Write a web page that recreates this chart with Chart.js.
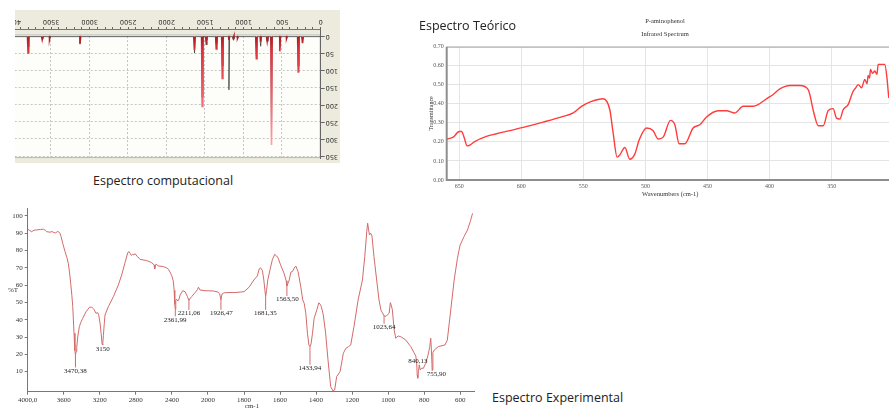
<!DOCTYPE html>
<html><head><meta charset="utf-8">
<script src="https://cdn.jsdelivr.net/npm/chart.js@4.4.1/dist/chart.umd.min.js"></script>
<style>
html,body{margin:0;padding:0;background:#fff;width:889px;height:408px;overflow:hidden;position:relative;}
#p1{position:absolute;left:15px;top:10px;width:325px;height:153px;overflow:hidden;background:#edebdd;}
#c1{position:absolute;left:-20px;top:0;transform:rotate(180deg);}
#c2{position:absolute;left:410px;top:0;}
#c3{position:absolute;left:0;top:200px;}
.cap{position:absolute;font-family:'Open Sans',sans-serif;font-size:12.5px;color:#222;white-space:nowrap;line-height:1;}
.ser{position:absolute;font-family:'Liberation Serif',serif;color:#333;white-space:nowrap;line-height:1;}
</style></head><body>
<div id="p1"><canvas id="c1" width="345" height="153"></canvas></div>
<canvas id="c2" width="490" height="200"></canvas>
<canvas id="c3" width="480" height="208"></canvas>
<div class="cap" style="left:93px;top:175px;">Espectro computacional</div>
<div class="cap" style="left:419px;top:20px;">Espectro Teórico</div>
<div class="cap" style="left:492px;top:392px;">Espectro Experimental</div>
<div class="ser" style="left:665px;top:18px;font-size:6.5px;transform:translateX(-50%);">P-aminophenol</div>
<div class="ser" style="left:665px;top:31px;font-size:6.5px;transform:translateX(-50%);">Infrared Spectrum</div>
<div class="ser" style="left:8px;top:287px;font-size:7px;">%T</div>
<div class="ser" style="left:252px;top:403px;font-size:7px;transform:translateX(-50%);">cm-1</div>
<script>
// ---------- Espectro computacional (stick spectrum) ----------
const compWavenumbers = [3800, 3617, 3521, 3126, 1639, 1539, 1487, 1356, 1278, 1192, 1135, 1080, 835, 780, 695, 639, 531, 443, 292, 236];
const compRedIntensity = [50, 8, 7, 20, 38, 206, 10, 38, 124, 10, 5, 4, 67, 15, 12, 316, 43, 5, 105, 19];
const compGrayIntensity = [30, 4, 4, 22, 48, 177, 24, 20, 86, 155, 8, 5, 57, 28, 14, 273, 33, 4, 86, 10];
const compXTicks = [0, 500, 1000, 1500, 2000, 2500, 3000, 3500, 4000];
const compYTicks = [0, 50, 100, 150, 200, 250, 300, 350];

// ---------- Espectro Teórico ----------
const theoWavenumbers = [660.1,654.8,650,648.1,646.3,643.6,641.5,637.5,628.1,620.0,609.3,598.5,582.4,566.3,558.2,551.5,543.4,534.0,528.7,526.0,522.8,520.6,516.6,512.6,508.5,505.0,499.1,493.8,489.7,485.7,479.8,476.3,472.8,468.3,461.6,456.2,450.8,441.4,434.7,428.0,421.3,413.2,409.2,402.5,397.1,391.7,383.7,375.6,368.9,364.3,360.8,356.8,352.8,348.8,346.1,343.4,340.7,336.7,332.7,330.5,328.6,325.9,323.3,321.5,320.6,319.5,318.7,317.0,315.2,313.5,312.5,307.2,305.3,304.0];
const theoTransmittance = [0.215,0.225,0.255,0.255,0.229,0.179,0.183,0.202,0.229,0.243,0.259,0.276,0.304,0.334,0.352,0.387,0.413,0.427,0.369,0.246,0.120,0.132,0.171,0.109,0.137,0.211,0.273,0.259,0.215,0.225,0.313,0.290,0.190,0.190,0.273,0.290,0.331,0.364,0.364,0.352,0.387,0.387,0.396,0.426,0.449,0.478,0.496,0.496,0.475,0.352,0.285,0.285,0.364,0.375,0.325,0.320,0.369,0.396,0.466,0.485,0.501,0.484,0.528,0.505,0.549,0.535,0.580,0.560,0.572,0.555,0.607,0.607,0.528,0.431];
const theoXTicks = [650, 600, 550, 500, 450, 400, 350];
const theoYTicks = [0, 0.1, 0.2, 0.3, 0.4, 0.5, 0.6, 0.7];

// ---------- Espectro Experimental ----------
const expWavenumbers = [4000,3975,3956,3930,3900,3860,3826,3800,3789,3752,3730,3715,3690,3670,3655,3641,3630,3610,3586,3565,3549,3535,3523,3510,3500,3486,3476,3470,3464,3456,3445,3427,3410,3390,3352,3315,3290,3265,3242,3223,3212,3197,3185,3175,3168,3160,3150,3142,3105,3049,2994,2957,2920,2890,2875,2864,2850,2835,2820,2809,2783,2753,2679,2624,2598,2590,2582,2575,2550,2494,2460,2439,2415,2402,2385,2375,2368,2362,2357,2346,2335,2320,2309,2280,2254,2228,2211,2195,2180,2143,2115,2106,2088,2032,1967,1945,1935,1928,1922,1912,1902,1856,1800,1772,1745,1726,1715,1708,1698,1690,1684,1680,1675,1668,1656,1643,1630,1620,1610,1597,1578,1566,1562,1556,1549,1540,1530,1518,1512,1500,1485,1474,1466,1457,1448,1440,1434,1428,1420,1411,1396,1385,1378,1371,1360,1347,1334,1319,1306,1297,1286,1267,1249,1235,1220,1208,1190,1167,1143,1130,1119,1114,1110,1104,1097,1090,1079,1064,1051,1040,1032,1023,1012,1005,995,988,982,977,967,958,945,930,903,875,857,847,842,839,836,832,828,822,815,805,792,779,770,764,760,756,752,745,722,685,672,653,634,616,601,579,560,545,532];
const expTransmittance = [92.3,91.5,90.9,91.8,91.9,92.2,92.3,91.6,90.9,90.6,91,90.5,90.2,91.0,90.8,89.8,88.1,84,79.4,76,72.5,67,61.1,54,47.6,32.2,22,19.5,21.5,24,30,36,38.5,40.8,44.7,47.2,47.3,46,43.7,44.1,42.8,38,32,26,25.4,31,38,42.8,47.6,53.4,60.1,65.9,73,78.8,79.4,78.4,77.2,77.8,77.5,78.2,76.5,74.9,74.2,73,71.7,69.5,71.8,72.1,71.1,70.7,70.0,69.2,67,65.5,62.5,57,49,46,51.4,51.8,50.8,52,54.3,56.8,56.2,53.4,51.1,52.5,53.4,55.7,57.5,58.8,57.2,56.8,56.6,56,55,51.5,54.9,55.5,55.7,55.7,56.2,58.8,63,65.3,69.5,70,68.5,63,57,53.4,57,63,68.8,74.6,77.8,77,75.5,71.7,66.9,62.5,59.5,61,63,67.5,68,70.5,71,67.8,59.1,51.4,49.5,43.7,32.2,25.4,24.5,26,32.2,40.8,45.7,49.8,49,47.6,42.8,32.2,16.8,1.3,-1.2,-0.6,7.1,10,20.6,23.5,24.5,25.4,36,51.4,63,76.5,90.9,95.8,93,89,90,88.4,76.5,63,51.4,45.5,44,42.2,42,42.8,43.7,49.9,48,45.7,34.1,29.3,30.6,30.2,28.3,24.5,21,19.1,15,8,6.2,10,13.9,11,12,11.9,14.8,19.6,24,29.3,22,11,21,22.4,24.5,25.4,28.3,45.7,63,75.5,83.2,88.1,91.9,96.7,101.5];
const expXTicks = [4000, 3600, 3200, 2800, 2400, 2000, 1800, 1600, 1400, 1200, 1000, 800, 600];
const expYTicks = [10, 20, 30, 40, 50, 60, 70, 80, 90, 100];
const expPeakWavenumbers = [3470, 3168, 2362, 2211, 1928, 1680, 1562, 1434, 1023, 836, 756];
const expPeakTextWavenumbers = [3470, 3168, 2365, 2211, 1926, 1681, 1560, 1434, 1023, 836, 733];
const expPeakLabels = ['3470,38', '3150', '2361,99', '2211,06', '1926,47', '1681,35', '1563,50', '1433,94', '1023,64', '840,13', '755,90'];
const expPeakFrom = [19.5, 25.4, 46, 51.1, 51.5, 53.4, 59.5, 24.5, 42.2, 17.9, 11];
const expPeakTo = [12.4, 25, 42, 45.7, 45.7, 45.7, 53.7, 14, 37.7, 17.9, 10.4];

// ===== Panel 1 =====
// each stick drawn as its own little peak; null points break the line between sticks
function spikes(wn, inten, w, withBaseline) {
  const idx = wn.map((v, i) => i).sort((a, b) => wn[b] - wn[a]);
  const pts = withBaseline ? [{x: 4000, y: 0}] : [];
  for (const i of idx) {
    pts.push({x: wn[i] + w, y: 0}, {x: wn[i], y: inten[i]}, {x: wn[i] - w, y: 0});
    if (!withBaseline) pts.push({x: wn[i] - w - 1, y: null});
  }
  if (withBaseline) pts.push({x: 0, y: 0});
  return pts;
}
const p1bg = {
  id: 'p1bg',
  beforeDraw(chart) {
    const {ctx, chartArea: a, scales: {x, y}} = chart;
    const yb = y.getPixelForValue(-6.3);
    ctx.save();
    ctx.fillStyle = '#fdfdfa';
    ctx.fillRect(a.left, a.top, a.right - a.left, yb - a.top);
    ctx.strokeStyle = '#b4b4b4'; ctx.lineWidth = 1;
    ctx.strokeRect(a.left + 0.5, a.top + 0.5, a.right - a.left - 1, yb - a.top - 1);
    ctx.setLineDash([2, 2]); ctx.strokeStyle = '#c4c4c4';
    for (const v of compXTicks) {
      if (v <= 0 || v >= 4000) continue;
      const px = Math.round(x.getPixelForValue(v)) + 0.5;
      ctx.beginPath(); ctx.moveTo(px, a.top); ctx.lineTo(px, yb); ctx.stroke();
    }
    for (const v of compYTicks) {
      if (v <= 0) continue;
      const py = Math.round(y.getPixelForValue(v)) + 0.5;
      ctx.beginPath(); ctx.moveTo(a.left, py); ctx.lineTo(a.right, py); ctx.stroke();
    }
    ctx.restore();
  }
};
function redGradient(ctx) {
  const chart = ctx.chart; const a = chart.chartArea;
  if (!a) return '#e3343c';
  const y = chart.scales.y;
  const g = chart.ctx.createLinearGradient(0, y.getPixelForValue(0), 0, y.getPixelForValue(320));
  g.addColorStop(0, '#a81c22'); g.addColorStop(0.12, '#e0303a'); g.addColorStop(0.6, '#f06a74'); g.addColorStop(1, '#ffa3ab');
  return g;
}
new Chart(document.getElementById('c1'), {
  type: 'scatter',
  data: {datasets: [
    {data: spikes(compWavenumbers, compRedIntensity, 7, false), showLine: true, spanGaps: false, borderColor: redGradient, borderWidth: 1.7, pointRadius: 0, tension: 0},
    {data: spikes(compWavenumbers, compGrayIntensity, 9, true), showLine: true, borderColor: 'rgba(70,70,70,0.85)', borderWidth: 1, pointRadius: 0, tension: 0}
  ]},
  options: {
    responsive: false, animation: false, events: [],
    layout: {padding: {top: 3, left: 0, right: 17.7, bottom: 0}},
    plugins: {legend: {display: false}, tooltip: {enabled: false}},
    scales: {
      x: {type: 'linear', min: 0, max: 4000,
        afterBuildTicks: s => { const t = []; for (let v = 0; v <= 4000; v += 100) t.push({value: v}); s.ticks = t; },
        afterFit: s => { s.height = 20; },
        ticks: {autoSkip: false, maxRotation: 0, padding: 1, color: '#333', font: {family: 'DejaVu Sans', size: 6.5},
          callback: v => compXTicks.includes(v) ? String(v) : ''},
        grid: {drawOnChartArea: false, tickLength: 3, tickColor: '#666'},
        border: {color: '#777'}},
      y: {type: 'linear', min: -19.3, max: 354.3,
        afterBuildTicks: s => { s.ticks = compYTicks.map(v => ({value: v})); },
        afterFit: s => { s.width = 19.3; },
        ticks: {padding: 1, color: '#333', font: {family: 'DejaVu Sans', size: 6.5}},
        grid: {drawOnChartArea: false, tickLength: 4, tickColor: '#666'},
        border: {color: '#666'}}
    }
  },
  plugins: [p1bg]
});

// ===== Panel 2 =====
const p2frame = {
  id: 'p2frame',
  beforeDatasetsDraw(chart) {
    const {ctx, chartArea: a} = chart;
    ctx.save();
    ctx.strokeStyle = '#a8a8a8'; ctx.lineWidth = 1;
    ctx.beginPath(); ctx.moveTo(a.left, a.top + 0.5); ctx.lineTo(a.right, a.top + 0.5); ctx.stroke();
    ctx.strokeStyle = '#8e8e8e'; ctx.lineWidth = 2;
    ctx.beginPath(); ctx.moveTo(a.left, a.top); ctx.lineTo(a.left, a.bottom); ctx.lineTo(a.right, a.bottom); ctx.stroke();
    ctx.restore();
  }
};
new Chart(document.getElementById('c2'), {
  type: 'line',
  data: {datasets: [{data: theoWavenumbers.map((w, i) => ({x: w, y: theoTransmittance[i]})),
    borderColor: '#ff3b3b', borderWidth: 1.4, pointRadius: 0, cubicInterpolationMode: 'monotone'}]},
  options: {
    responsive: false, animation: false, events: [],
    layout: {padding: {top: 46.7, left: 18, right: 6.3, bottom: 0}},
    plugins: {legend: {display: false}, tooltip: {enabled: false}},
    scales: {
      x: {type: 'linear', reverse: true, min: 300, max: 660.1,
        afterBuildTicks: s => { s.ticks = theoXTicks.map(v => ({value: v})); },
        afterFit: s => { s.height = 20; },
        ticks: {maxRotation: 0, padding: 3, color: '#555', font: {family: 'Liberation Serif', size: 6}},
        grid: {color: '#e4e4e4', drawTicks: false},
        border: {display: false},
        title: {display: true, text: 'Wavenumbers (cm-1)', color: '#333', font: {family: 'Liberation Serif', size: 6.5}, padding: {top: 0, bottom: 2}}},
      y: {type: 'linear', min: 0, max: 0.7,
        afterBuildTicks: s => { s.ticks = theoYTicks.map(v => ({value: v})); },
        afterFit: s => { s.width = 18.7; },
        ticks: {padding: 3, color: '#555', font: {family: 'Liberation Serif', size: 6}, callback: v => Number(v).toFixed(2)},
        grid: {color: '#e4e4e4', drawTicks: false},
        border: {display: false},
        title: {display: true, text: 'Transmittance', color: '#333', font: {family: 'Liberation Serif', size: 6}, padding: 0}}
    }
  },
  plugins: [p2frame]
});

// ===== Panel 3 =====
// split axis: 400 cm-1 per division above 2000, 200 cm-1 per division below
function toPos(w) { return w >= 2000 ? (4000 - w) / 400 : 5 + (2000 - w) / 200; }
function fromPos(p) { return p <= 5 ? 4000 - p * 400 : 2000 - (p - 5) * 200; }
const expColor = '#d46a6a';
const p3labels = {
  id: 'p3labels',
  afterDatasetsDraw(chart) {
    const {ctx, scales: {x, y}} = chart;
    ctx.save();
    ctx.strokeStyle = expColor; ctx.lineWidth = 1;
    ctx.fillStyle = '#222'; ctx.font = '7px "Liberation Serif"';
    ctx.textAlign = 'center'; ctx.textBaseline = 'top';
    expPeakWavenumbers.forEach((w, i) => {
      const px = x.getPixelForValue(toPos(w));
      const y1 = y.getPixelForValue(expPeakFrom[i]);
      const y2 = y.getPixelForValue(expPeakTo[i]);
      if (y2 - y1 > 1) { ctx.beginPath(); ctx.moveTo(px, y1); ctx.lineTo(px, y2); ctx.stroke(); }
      ctx.fillText(expPeakLabels[i], x.getPixelForValue(toPos(expPeakTextWavenumbers[i])), y2);
    });
    ctx.restore();
  }
};
new Chart(document.getElementById('c3'), {
  type: 'line',
  data: {datasets: [{data: expWavenumbers.map((w, i) => ({x: toPos(w), y: expTransmittance[i]})),
    borderColor: expColor, borderWidth: 1, pointRadius: 0, tension: 0}]},
  options: {
    responsive: false, animation: false, events: [],
    layout: {padding: {top: 8, left: 0, right: 6, bottom: 0}},
    plugins: {legend: {display: false}, tooltip: {enabled: false}},
    scales: {
      x: {type: 'linear', min: 0, max: 12.38,
        afterBuildTicks: s => { s.ticks = expXTicks.map(w => ({value: toPos(w)})); },
        afterFit: s => { s.height = 16.3; },
        ticks: {autoSkip: false, maxRotation: 0, padding: 1, color: '#333', font: {family: 'Liberation Serif', size: 7},
          callback: v => { const w = Math.round(fromPos(v)); return w === 4000 ? '4000,0' : String(w); }},
        grid: {drawOnChartArea: false, tickLength: 3, tickColor: '#777'},
        border: {color: '#777'}},
      y: {type: 'linear', min: -1.6, max: 104.6,
        afterBuildTicks: s => { s.ticks = expYTicks.map(v => ({value: v})); },
        afterFit: s => { s.width = 27.7; },
        ticks: {padding: 2, color: '#333', font: {family: 'Liberation Serif', size: 7}},
        grid: {drawOnChartArea: false, tickLength: 3, tickColor: '#777'},
        border: {color: '#777'}}
    }
  },
  plugins: [p3labels]
});
</script>
</body></html>
